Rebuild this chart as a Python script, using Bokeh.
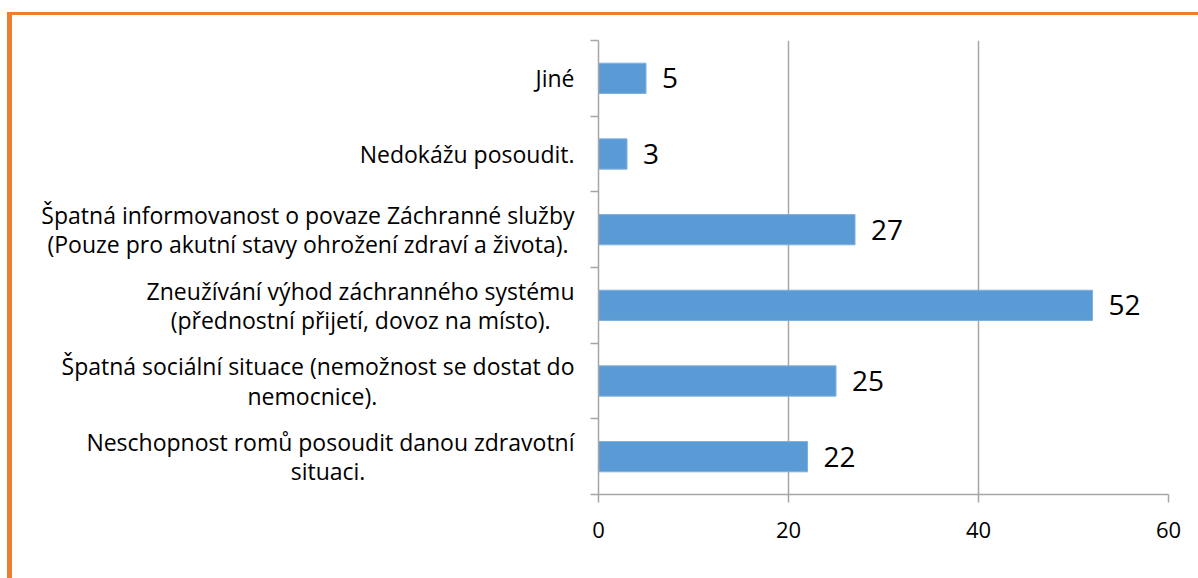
from bokeh.plotting import figure
from bokeh.models import (ColumnDataSource, Range1d, LinearAxis, FixedTicker, LabelSet, Spacer)
from bokeh.layouts import row, column
from bokeh.core.properties import value
from bokeh.embed import file_html
from bokeh.resources import INLINE

NB = "\u00a0"
categories = [
    "Neschopnost romů posoudit danou zdravotní\nsituaci." + NB * 35,
    "Špatná sociální situace (nemožnost se dostat do\nnemocnice)." + NB * 33,
    "Zneužívání výhod záchranného systému\n(přednostní přijetí, dovoz na místo)." + NB * 4,
    "Špatná informovanost o povaze Záchranné služby\n(Pouze pro akutní stavy ohrožení zdraví a života)." + NB,
    "Nedokážu posoudit.",
    "Jiné",
]
values = [22, 25, 52, 27, 3, 5]
x_ticks = [0, 20, 40, 60]

FONT = "Open Sans"
GRAY = "#A6A6A6"
ORANGE = "#ED7D31"

n = len(categories)
ypos = [i + 0.5 for i in range(n)]
src = ColumnDataSource(dict(y=ypos, val=values, lab=[str(v) for v in values]))

p = figure(width=1186, height=563, y_range=Range1d(0, n), x_range=Range1d(0, 60),
           output_backend="svg", toolbar_location=None, x_axis_location=None, y_axis_location=None,
           min_border_left=586, min_border_right=30, min_border_top=25, min_border_bottom=84)
p.outline_line_color = None
p.background_fill_color = "white"
p.border_fill_color = "white"

p.hbar(y="y", right="val", left=0, height=0.4, source=src,
       fill_color="#5B9BD5", line_color="#7EB0DE", line_width=1)

# grid
p.ygrid.visible = False
p.xgrid.ticker = FixedTicker(ticks=x_ticks)
p.xgrid.grid_line_color = GRAY
p.xgrid.grid_line_width = 1.5

# x axis
xa = LinearAxis(ticker=FixedTicker(ticks=x_ticks))
xa.axis_line_color = GRAY
xa.axis_line_width = 1.5
xa.major_tick_line_color = GRAY
xa.major_tick_line_width = 1.5
xa.major_tick_in = 0
xa.major_tick_out = 8
xa.minor_tick_line_color = None
xa.major_label_text_font = FONT
xa.major_label_text_font_size = "22px"
xa.major_label_text_color = "black"
xa.major_label_standoff = 19
p.add_layout(xa, "below")

# y tick axis at category boundaries
ta = LinearAxis(ticker=FixedTicker(ticks=list(range(n + 1))))
ta.axis_line_color = GRAY
ta.axis_line_width = 1.5
ta.major_tick_line_color = GRAY
ta.major_tick_line_width = 1.5
ta.major_tick_in = 0
ta.major_tick_out = 8
ta.minor_tick_line_color = None
ta.major_label_text_font_size = "1px"
ta.major_label_text_color = None
ta.major_label_standoff = 0
p.add_layout(ta, "left")

# category labels
ca = LinearAxis(ticker=FixedTicker(ticks=ypos),
                major_label_overrides={y: c for y, c in zip(ypos, categories)})
ca.axis_line_color = None
ca.major_tick_line_color = None
ca.minor_tick_line_color = None
ca.major_tick_out = 0
ca.major_tick_in = 0
ca.major_label_text_font = FONT
ca.major_label_text_font_size = "23px"
ca.major_label_text_color = "black"
ca.major_label_text_line_height = 0.92
ca.major_label_standoff = 16
p.add_layout(ca, "left")

# value labels
labels = LabelSet(x="val", y="y", text="lab", source=src, x_offset=16,
                  text_baseline="middle", text_font=value(FONT), text_font_size="28px",
                  text_color="black")
p.add_layout(labels)

left_bar = Spacer(width=5, height=566, styles={"background-color": ORANGE})
top_bar = Spacer(width=1186, height=3, styles={"background-color": ORANGE})

layout = column(Spacer(height=12, width=1198),
                row(Spacer(width=7, height=566), left_bar, column(top_bar, p)))

open("out.html", "w").write(file_html(layout, INLINE))
